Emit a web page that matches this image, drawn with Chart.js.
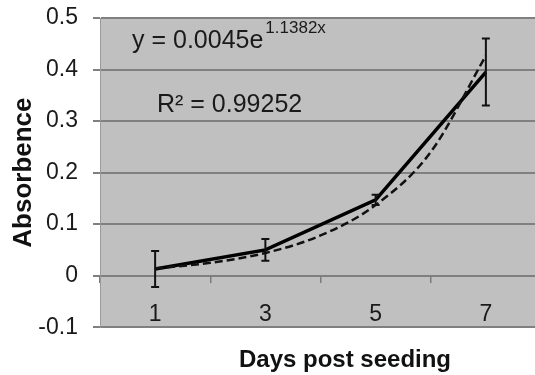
<!DOCTYPE html>
<html><head><meta charset="utf-8">
<style>
html,body{margin:0;padding:0;overflow:hidden;background:#fff;width:535px;height:375px;}
#wrap{position:relative;width:690px;height:375px;}
</style>
<script src="https://cdn.jsdelivr.net/npm/chart.js@4.4.1/dist/chart.umd.min.js"></script>
</head><body>
<div id="wrap"><canvas id="c" width="690" height="375"></canvas></div>
<script>
const days = ['1', '3', '5', '7'];
const absorbance = [0.013, 0.050, 0.147, 0.395];
const errors = [0.035, 0.021, 0.010, 0.065];
const trendX = [1, 1.5, 2, 2.5, 3, 3.5, 4];
const trendY = [0.014, 0.025, 0.044, 0.078, 0.137, 0.240, 0.427];
const yTicks = [-0.1, 0, 0.1, 0.2, 0.3, 0.4, 0.5];
const equationText = 'y = 0.0045e';
const exponentText = '1.1382x';
const r2Text = 'R\u00b2 = 0.99252';
const xTitle = 'Days post seeding';
const yTitle = 'Absorbence';

const FONT = '"Liberation Sans", Arial, sans-serif';
Chart.defaults.font.family = FONT;

const plotBg = {
  id: 'plotBg',
  beforeDraw(chart) {
    const {ctx, chartArea: a} = chart;
    ctx.save();
    ctx.fillStyle = '#c0c0c0';
    ctx.fillRect(a.left, a.top, a.right - a.left, a.bottom - a.top);
    ctx.restore();
  }
};

const errorBars = {
  id: 'errorBars',
  afterDatasetsDraw(chart) {
    const meta = chart.getDatasetMeta(0);
    const ys = chart.scales.y;
    const ctx = chart.ctx;
    ctx.save();
    ctx.strokeStyle = '#111';
    ctx.lineWidth = 2;
    meta.data.forEach((pt, i) => {
      const top = ys.getPixelForValue(absorbance[i] + errors[i]);
      const bot = ys.getPixelForValue(absorbance[i] - errors[i]);
      ctx.beginPath();
      ctx.moveTo(pt.x, top); ctx.lineTo(pt.x, bot);
      ctx.moveTo(pt.x - 4, top); ctx.lineTo(pt.x + 4, top);
      ctx.moveTo(pt.x - 4, bot); ctx.lineTo(pt.x + 4, bot);
      ctx.stroke();
    });
    ctx.restore();
  }
};

const annotations = {
  id: 'annotations',
  afterDraw(chart) {
    const {ctx, chartArea: a} = chart;
    ctx.save();
    ctx.fillStyle = '#1a1a1a';
    ctx.textBaseline = 'alphabetic';
    ctx.textAlign = 'left';
    ctx.font = '25px ' + FONT;
    const ex = a.left + 32, ey = a.top + 30;
    ctx.fillText(equationText, ex, ey);
    const w = ctx.measureText(equationText).width;
    ctx.font = '17px ' + FONT;
    ctx.fillText(exponentText, ex + w + 2, ey - 15);
    ctx.font = '25px ' + FONT;
    ctx.fillText(r2Text, a.left + 57, a.top + 94);
    ctx.restore();
  }
};

new Chart(document.getElementById('c'), {
  type: 'line',
  data: {
    labels: days,
    datasets: [
      {
        label: 'Absorbance',
        data: absorbance,
        borderColor: '#000',
        backgroundColor: '#000',
        borderWidth: 3.5,
        pointRadius: 0,
        tension: 0,
        xAxisID: 'x',
        order: 2
      },
      {
        label: 'Exponential trend',
        data: trendX.map((x, i) => ({x: x, y: trendY[i]})),
        borderColor: '#111',
        borderWidth: 2.5,
        borderDash: [8, 4],
        pointRadius: 0,
        cubicInterpolationMode: 'monotone',
        xAxisID: 'x2',
        order: 1
      }
    ]
  },
  options: {
    responsive: false,
    animation: false,
    layout: {padding: {left: 0, right: 0, top: 18, bottom: 0}},
    plugins: {
      legend: {display: false},
      tooltip: {enabled: false},
      title: {
        display: true,
        position: 'bottom',
        text: xTitle,
        color: '#111',
        font: {size: 24, weight: 'bold', family: FONT},
        padding: {top: 19, bottom: 0}
      }
    },
    scales: {
      x: {
        type: 'category',
        position: {y: 0},
        offset: true,
        grid: {offset: true, drawOnChartArea: false, drawTicks: true, tickLength: 6, color: '#7a7a7a', lineWidth: 1.5},
        border: {display: true, color: '#7f7f7f', width: 2},
        ticks: {color: '#1a1a1a', font: {size: 23}, padding: 19, maxRotation: 0}
      },
      x2: {type: 'linear', display: false, min: 0.5, max: 4.5},
      y: {
        min: -0.1, max: 0.5,
        afterBuildTicks: s => { s.ticks = yTicks.map(v => ({value: v})); },
        afterFit: s => { s.width = 100; s.paddingTop = 0; s.paddingBottom = 0; },
        grid: {color: '#808080', lineWidth: 2, tickLength: 7, drawTicks: true},
        border: {display: true, color: '#9a9a9a', width: 1},
        ticks: {
          color: '#1a1a1a', font: {size: 23}, padding: 15,
          callback: v => (Math.abs(v) < 1e-9 ? '0' : Number(v).toFixed(1))
        },
        title: {display: true, text: yTitle, color: '#111', font: {size: 26, weight: 'bold'}, padding: {top: 8, bottom: 0}}
      },
      yR: {
        position: 'right',
        display: true,
        min: 0, max: 1,
        afterFit: s => { s.width = 149; s.paddingTop = 0; s.paddingBottom = 0; },
        ticks: {display: false},
        grid: {display: false, drawTicks: false},
        border: {display: false}
      }
    }
  },
  plugins: [plotBg, errorBars, annotations]
});
</script>
</body></html>
